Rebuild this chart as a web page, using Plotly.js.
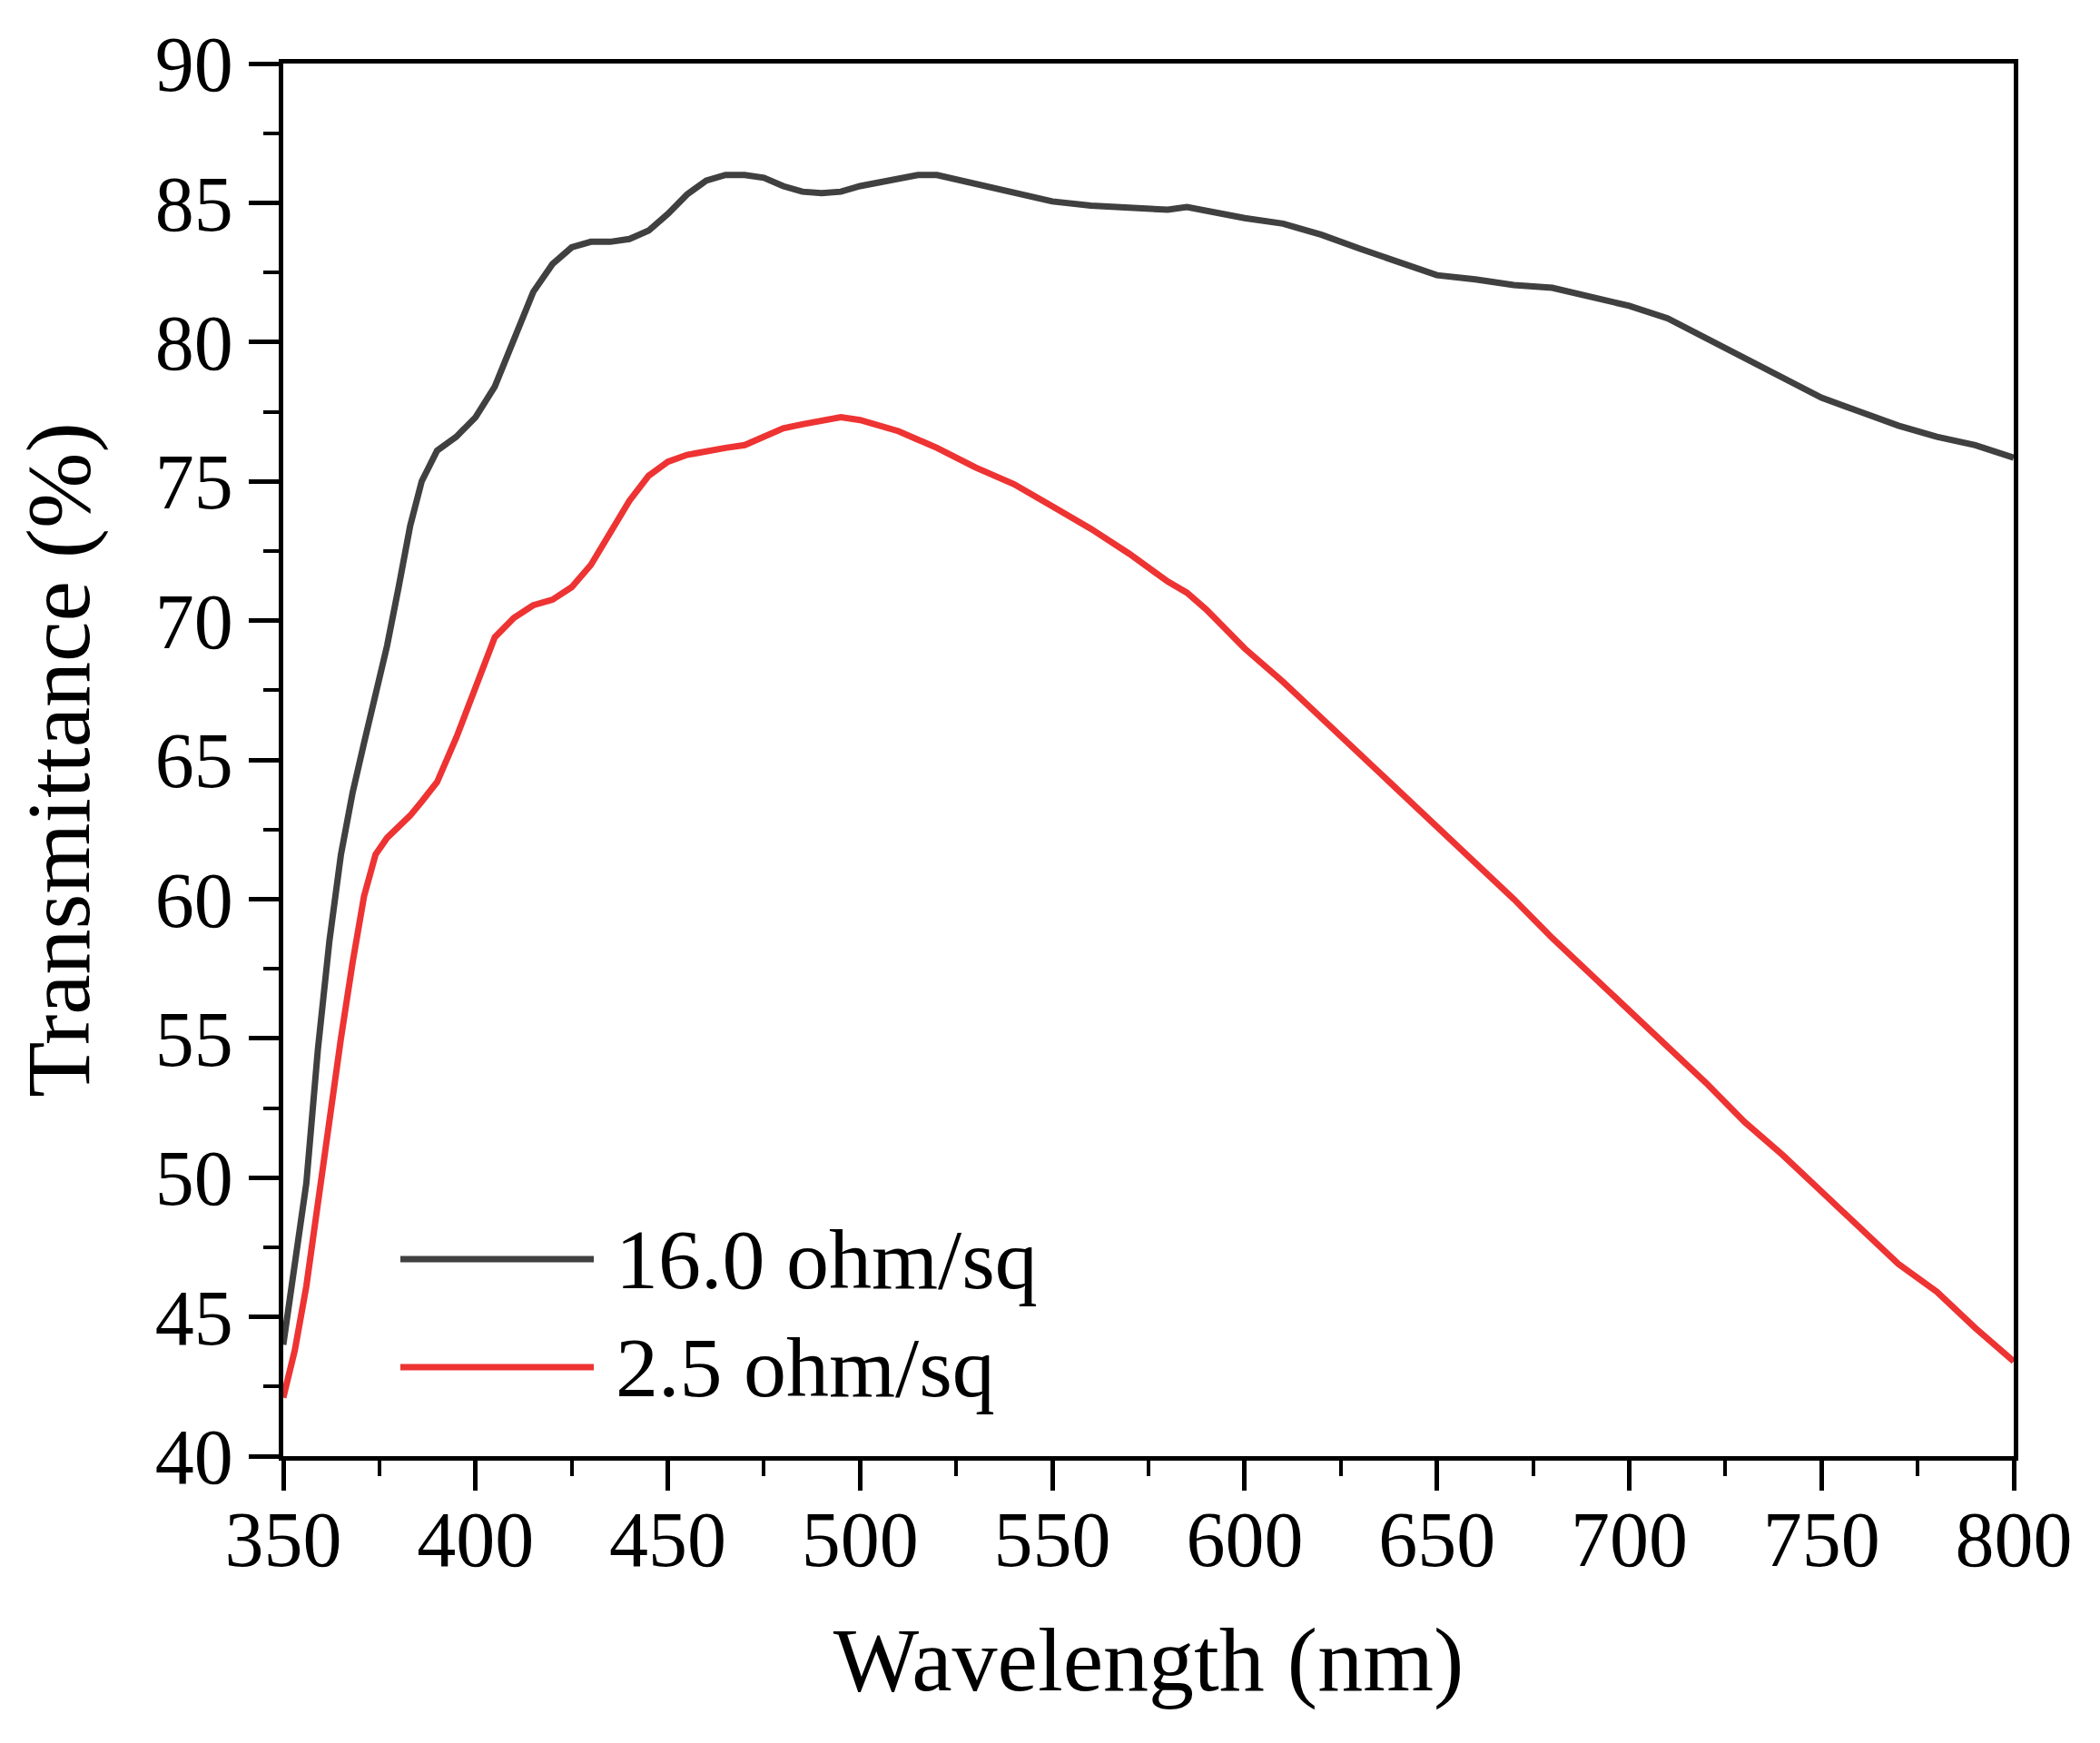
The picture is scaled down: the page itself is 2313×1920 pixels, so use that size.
<!DOCTYPE html>
<html>
<head>
<meta charset="utf-8">
<script src="https://cdn.plot.ly/plotly-3.0.1.min.js"></script>
<style>
  html, body { margin: 0; padding: 0; background: #fff; }
  #graphDiv { width: 2313px; height: 1920px; }
</style>
</head>
<body>
<div id="graphDiv"></div>
<script>
// wavelength grid (nm)
const wavelength = [350, 353, 356, 359, 362, 365, 368, 371, 374, 377, 380, 383, 386, 390, 395,
    400, 405, 410, 415, 420, 425, 430, 435, 440, 445, 450, 455, 460, 465, 470, 475, 480, 485,
    490, 495, 500, 505, 510, 515, 520, 530, 540, 550, 560, 570, 580, 585, 590, 600, 610, 620,
    630, 640, 650, 660, 670, 680, 690, 700, 710, 720, 730, 740, 750, 760, 770, 780, 790, 800];

// transmittance (%) for 16.0 ohm/sq
const t_16 = [44.0, 47.1, 49.8, 54.6, 58.5, 61.6, 63.8, 65.6, 67.4, 69.1, 71.2, 73.4, 75.0, 76.1, 76.6,
    77.3, 78.4, 80.1, 81.8, 82.8, 83.4, 83.6, 83.6, 83.7, 84.0, 84.6, 85.3, 85.8, 86.0, 86.0, 85.9, 85.6, 85.4,
    85.35, 85.4, 85.6, 85.75, 85.9, 86.0, 86.0, 85.7, 85.4, 85.05, 84.9, 84.8, 84.75, 84.85, 84.7, 84.45, 84.25, 83.85,
    83.35, 82.85, 82.4, 82.25, 82.05, 81.95, 81.65, 81.3, 80.85, 80.15, 79.4, 78.7, 78.0, 77.5, 77.0, 76.6, 76.3, 75.85];

// transmittance (%) for 2.5 ohm/sq
const t_2_5 = [42.1, 43.8, 46.1, 49.2, 52.0, 55.0, 57.7, 60.1, 61.6, 62.2, 62.6, 63.0, 63.5, 64.2, 65.8,
    67.6, 69.4, 70.1, 70.55, 70.75, 71.2, 72.0, 73.2, 74.3, 75.2, 75.7, 75.95, 76.1, 76.2, 76.3, 76.6, 76.9, 77.05,
    77.2, 77.3, 77.2, 77.0, 76.8, 76.5, 76.2, 75.5, 74.9, 74.1, 73.3, 72.4, 71.4, 71.0, 70.4, 69.0, 67.8, 66.5,
    65.2, 63.9, 62.6, 61.3, 60.0, 58.6, 57.3, 56.0, 54.7, 53.4, 52.0, 50.8, 49.5, 48.2, 46.9, 45.9, 44.6, 43.4];

const series_names = ["16.0 ohm/sq", "2.5 ohm/sq"];
const series_colors = ["#404040", "#ee3333"];

const FONT = "Liberation Serif, Times New Roman, serif";

function make_trace(y, i) {
    return {
        x: wavelength,
        y: y,
        name: series_names[i],
        mode: "lines",
        type: "scatter",
        line: {color: series_colors[i], width: 7},
        showlegend: false
    };
}

// hand-drawn legend (Plotly's legend keys are too short)
function legend_bits() {
    let shapes = [], notes = [];
    let rows = [1387, 1506];
    series_names.forEach((name, i) => {
        let yp = 1 - (rows[i] - 70) / 1534;
        shapes.push({type: "line", xref: "paper", yref: "paper",
            x0: (441 - 312) / 1906, x1: (654 - 312) / 1906, y0: yp, y1: yp,
            line: {color: series_colors[i], width: 7}});
        notes.push({xref: "paper", yref: "paper", x: (676 - 312) / 1906, y: yp,
            xanchor: "left", yanchor: "middle", showarrow: false, text: name,
            font: {family: FONT, size: 94, color: "black"}});
    });
    return [shapes, notes];
}

function axis_base() {
    return {
        showgrid: false, zeroline: false,
        showline: true, mirror: true, linecolor: "black", linewidth: 5,
        ticks: "outside", ticklen: 33, tickwidth: 5, tickcolor: "black",
        tickfont: {family: FONT, size: 86, color: "black"},
        minor: {ticks: "outside", ticklen: 17, tickwidth: 4, tickcolor: "black"}
    };
}

function onPageLoad() {
    let [shapes, notes] = legend_bits();
    let xaxis = Object.assign(axis_base(), {
        range: [350, 800], tick0: 350, dtick: 50, ticklabelstandoff: -20,
        title: {text: "Wavelength (nm)", font: {family: FONT, size: 100, color: "black"}, standoff: 50}
    });
    xaxis.minor.dtick = 25;
    let yaxis = Object.assign(axis_base(), {
        range: [40, 90], tick0: 40, dtick: 5,
        title: {text: "Transmittance (%)", font: {family: FONT, size: 100, color: "black"}, standoff: 40}
    });
    yaxis.minor.dtick = 2.5;

    Plotly.newPlot("graphDiv",
        [make_trace(t_16, 0), make_trace(t_2_5, 1)],
        {
            width: 2313, height: 1920,
            margin: {l: 312, r: 95, t: 70, b: 316},
            paper_bgcolor: "white", plot_bgcolor: "white",
            xaxis: xaxis, yaxis: yaxis,
            shapes: shapes, annotations: notes,
            showlegend: false
        },
        {displayModeBar: false, staticPlot: true});
}
onPageLoad();
</script>
</body>
</html>
